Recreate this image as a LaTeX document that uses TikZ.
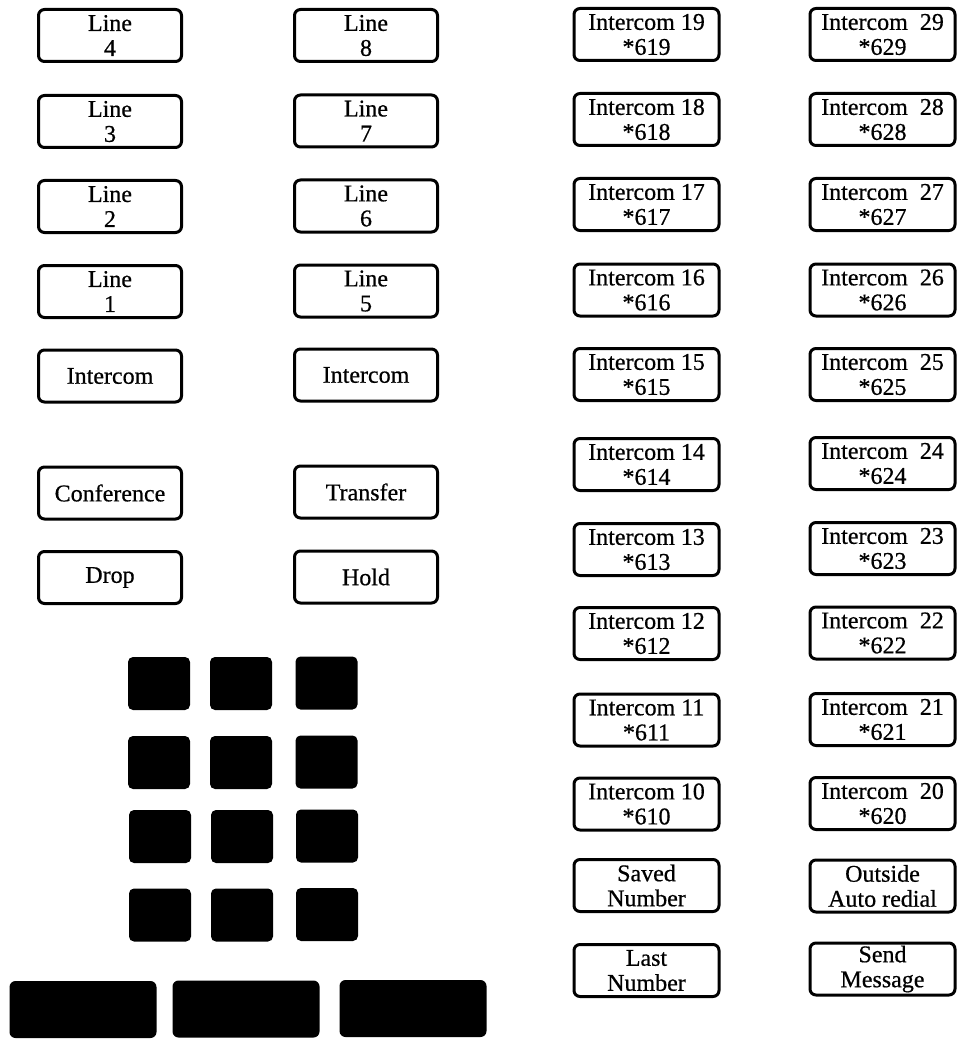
\documentclass[tikz,border=0pt]{standalone}
\usepackage{fontspec}
\setmainfont{Liberation Serif}[FakeBold=0.6]

\tikzset{every picture/.style={line width=0.75pt}}
\tikzset{
  softkey/.style={draw, line width=3pt, rounded corners=6pt, align=center,
    inner sep=0pt, minimum height=52pt, font=\fontsize{24}{25}\selectfont},
  leftkey/.style={softkey, minimum width=143pt},
  rightkey/.style={softkey, minimum width=145pt},
  padkey/.style={fill=black, rounded corners=5pt, inner sep=0pt,
    minimum width=62pt, minimum height=53pt},
  barkey/.style={fill=black, rounded corners=6pt, inner sep=0pt,
    minimum width=147pt, minimum height=57pt}
}

\begin{document}
\begin{tikzpicture}[x=1pt,y=1pt,yscale=-1]
\useasboundingbox (0,0) rectangle (965,1043);

% Line keys, left column
\node [leftkey] (line4) at (110,35.5) {Line\\4};
\node [leftkey] (line3) at (110,121.5) {Line\\3};
\node [leftkey] (line2) at (110,206.5) {Line\\2};
\node [leftkey] (line1) at (110,291.5) {Line\\1};
\node [leftkey] (icA) at (110,376) {Intercom};
\node [leftkey] (conf) at (110,493) {Conference};
\node [leftkey] (drop) at (110,577.5) {Drop};

% Line keys, second column
\node [leftkey] (line8) at (366,35.5) {Line\\8};
\node [leftkey] (line7) at (366,121) {Line\\7};
\node [leftkey] (line6) at (366,206) {Line\\6};
\node [leftkey] (line5) at (366,291) {Line\\5};
\node [leftkey] (icB) at (366,375) {Intercom};
\node [leftkey] (xfer) at (366,492) {Transfer};
\node [leftkey] (hold) at (366,577) {Hold};

% Intercom keys 19 .. 10
\node [rightkey] (ic19) at (646.5,34.5) {Intercom 19\\*619};
\node [rightkey] (ic18) at (646.5,119.5) {Intercom 18\\*618};
\node [rightkey] (ic17) at (646.5,204.5) {Intercom 17\\*617};
\node [rightkey] (ic16) at (646.5,290) {Intercom 16\\*616};
\node [rightkey] (ic15) at (646.5,374.5) {Intercom 15\\*615};
\node [rightkey] (ic14) at (646.5,464.5) {Intercom 14\\*614};
\node [rightkey] (ic13) at (646.5,549.5) {Intercom 13\\*613};
\node [rightkey] (ic12) at (646.5,633.5) {Intercom 12\\*612};
\node [rightkey] (ic11) at (646.5,720) {Intercom 11\\*611};
\node [rightkey] (ic10) at (646.5,804) {Intercom 10\\*610};
\node [rightkey] (saved) at (646.5,885.5) {Saved\\Number};
\node [rightkey] (last) at (646.5,970.5) {Last\\Number};

% Intercom keys 29 .. 20
\node [rightkey] (ic29) at (882.5,34.5) {Intercom\ \ 29\\*629};
\node [rightkey] (ic28) at (882.5,119.5) {Intercom\ \ 28\\*628};
\node [rightkey] (ic27) at (882.5,204.5) {Intercom\ \ 27\\*627};
\node [rightkey] (ic26) at (882.5,290) {Intercom\ \ 26\\*626};
\node [rightkey] (ic25) at (882.5,374.5) {Intercom\ \ 25\\*625};
\node [rightkey] (ic24) at (882.5,463.5) {Intercom\ \ 24\\*624};
\node [rightkey] (ic23) at (882.5,548.5) {Intercom\ \ 23\\*623};
\node [rightkey] (ic22) at (882.5,633) {Intercom\ \ 22\\*622};
\node [rightkey] (ic21) at (882.5,719.5) {Intercom\ \ 21\\*621};
\node [rightkey] (ic20) at (882.5,803.5) {Intercom\ \ 20\\*620};
\node [rightkey] (redial) at (882.5,886) {Outside\\Auto redial};
\node [rightkey] (msg) at (882.5,969) {Send\\Message};

% Dial pad
\node [padkey] (k1) at (159,683.5) {};
\node [padkey] (k2) at (241,683.5) {};
\node [padkey] (k3) at (326.5,683) {};
\node [padkey] (k4) at (159,762.5) {};
\node [padkey] (k5) at (241,762.5) {};
\node [padkey] (k6) at (326.5,762) {};
\node [padkey] (k7) at (160,836.5) {};
\node [padkey] (k8) at (242,836.5) {};
\node [padkey] (k9) at (327,836) {};
\node [padkey] (k10) at (160,915) {};
\node [padkey] (k11) at (242,915) {};
\node [padkey] (k12) at (327,914.5) {};

% Bottom bar keys
\node [barkey] (bar1) at (83,1009.5) {};
\node [barkey] (bar2) at (246,1009) {};
\node [barkey] (bar3) at (413,1008.5) {};

\end{tikzpicture}
\end{document}
